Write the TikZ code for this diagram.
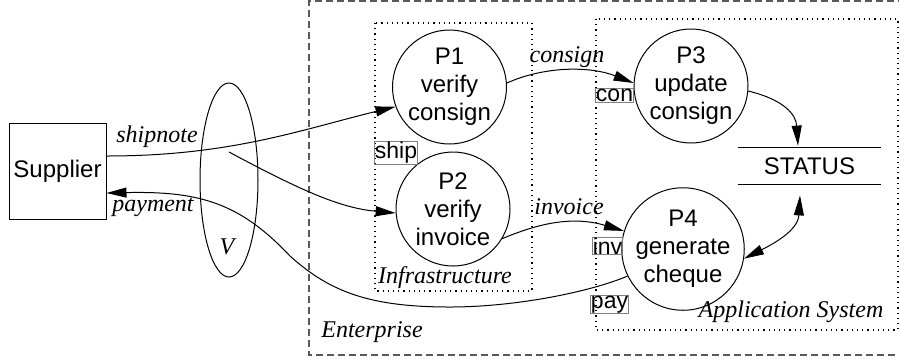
\documentclass[tikz,border=0pt]{standalone}
\usepackage{fontspec}
\setmainfont{Liberation Serif}
\setsansfont{Liberation Sans}
\usetikzlibrary{arrows.meta,shapes.geometric}
\begin{document}
\begin{tikzpicture}[x=0.5pt,y=-0.5pt,
  every node/.style={font=\sffamily\fontsize{12}{14}\selectfont},
  proc/.style={circle,draw,line width=0.5pt,minimum size=57pt,inner sep=0pt,align=center},
  lbl/.style={font=\rmfamily\itshape\fontsize{12}{14}\selectfont,inner sep=0pt},
  tag/.style={draw=gray,line width=0.4pt,inner sep=0.2pt,font=\sffamily\fontsize{11.5}{12}\selectfont},
  tip/.style={Triangle[length=10pt,width=5pt]},
  flow/.style={line width=0.5pt,-{Triangle[length=10pt,width=5pt]}},
  bothflow/.style={line width=0.5pt,{Triangle[length=10pt,width=5pt]}-{Triangle[length=10pt,width=5pt]}},
  frame/.style={line width=0.6pt,draw=black!65,dash pattern=on 3.5pt off 2pt},
  zone/.style={line width=0.6pt,dotted}
]
\useasboundingbox (0,0) rectangle (899,361);

% boundaries
\draw[frame] (905,1) -- (309,1) -- (309,355) -- (905,355);
\draw[zone] (375,23) rectangle (532,291);
\draw[zone] (596,19) rectangle (898,330);

% external entity and interface
\node[draw,line width=0.5pt,minimum width=48.5pt,minimum height=48pt,inner sep=0pt] (sup) at (57.5,171) {Supplier};
\node[ellipse,draw,line width=0.5pt,minimum width=29pt,minimum height=97pt,inner sep=0pt] (gate) at (229,180) {};
\node[lbl] (v) at (227,247) {V};

% processes
\node[proc] (p1) at (449.5,87) {P1\\verify\\consign};
\node[proc] (p2) at (453,209) {P2\\verify\\invoice};
\node[proc] (p3) at (691,86) {P3\\update\\consign};
\node[proc] (p4) at (683,249) {P4\\generate\\cheque};

% data store
\node[minimum width=71.5pt,minimum height=18pt,inner sep=0pt] (st) at (809.5,166) {STATUS};
\draw[line width=0.5pt] (st.north west) -- (st.north east);
\draw[line width=0.5pt] (st.south west) -- (st.south east);

% flows
\coordinate (br) at (229,152);
\draw[flow] ([yshift=7.5pt]sup.east) .. controls (230,156) and (300,130) .. (p1.200);
\draw[flow] (br) .. controls (300,190) and (340,208) .. (p2.184);
\draw[flow] (p4.206) .. controls (590,292) and (515,307) .. (450,307)
   .. controls (370,307) and (330,292) .. (290,256)
   .. controls (240,203) and (200,191) .. ([yshift=-11pt]sup.east);
\draw[flow] (p1.4) .. controls (545,66) and (590,66) .. (p3.177);
\draw[flow] (p2.-31) .. controls (535,225) and (570,215) .. (p4.163);
\draw[flow] (p3.-5) .. controls (785,100) and (796,115) .. ([xshift=-5.75pt,yshift=1pt]st.north);
\draw[bothflow] (p4.-9) .. controls (775,243) and (798,230) .. ([xshift=-4.75pt,yshift=-5.5pt]st.south);

% flow labels
\node[lbl] (lship) at (157,137) {shipnote};
\node[lbl] (lpay) at (153,207) {payment};
\node[lbl] (lcon) at (567,57) {consign};
\node[lbl] (linv) at (569,207) {invoice};

% zone labels
\node[lbl] (linfra) at (445,278) {Infrastructure};
\node[lbl] (lent) at (372,332) {Enterprise};
\node[lbl] (lapp) at (791,312) {Application System};

% port tags
\node[tag] (tship) at (396,153) {ship};
\node[tag] (tcon) at (614.5,95.5) {con};
\node[tag] (tinv) at (607.5,246) {inv};
\node[tag] (tpay) at (609.5,304.5) {pay};
\end{tikzpicture}
\end{document}
